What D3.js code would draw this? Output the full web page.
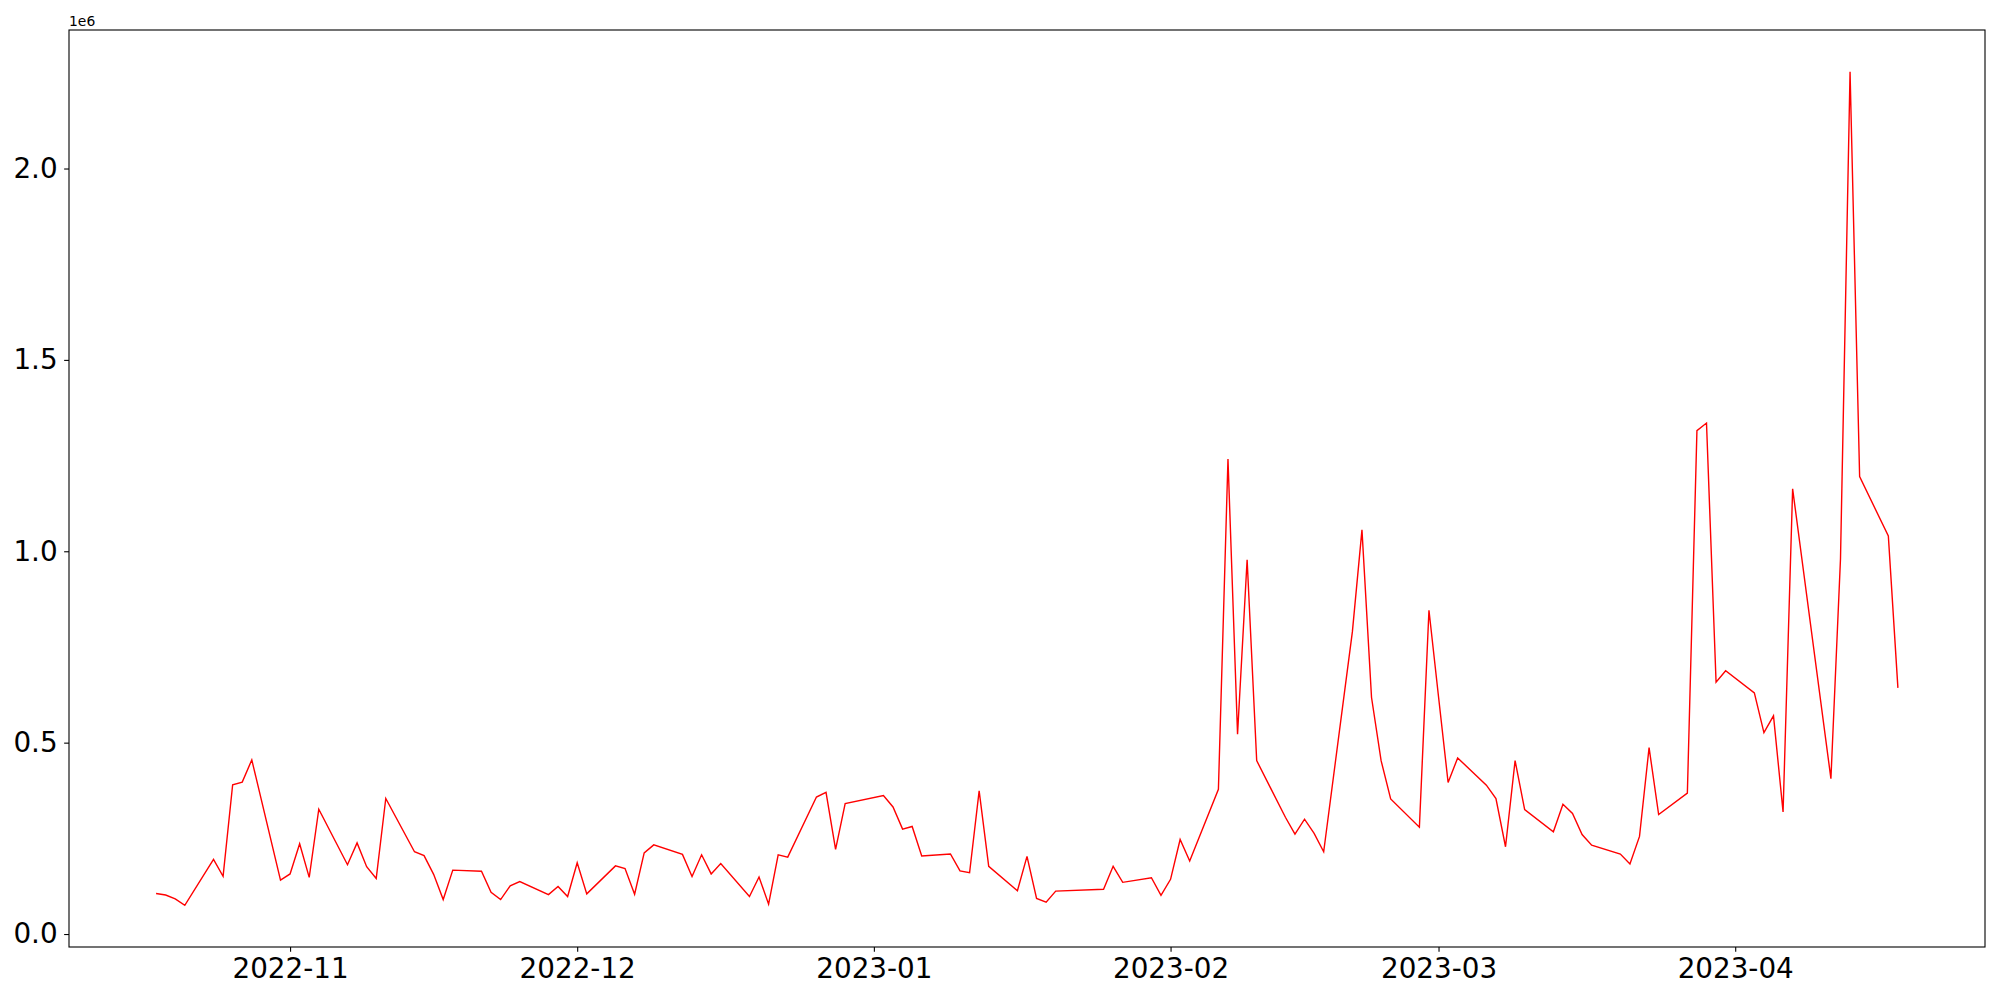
<!DOCTYPE html>
<html>
<head>
<meta charset="utf-8">
<script src="https://cdn.jsdelivr.net/npm/d3@7"></script>
<style>
  html, body { margin: 0; padding: 0; background: white; }
  svg { display: block; font-family: "DejaVu Sans", sans-serif; }
</style>
</head>
<body>
<div id="chart"></div>
<script>
// business days
const dates = [
  "2022-10-18","2022-10-19","2022-10-20","2022-10-21","2022-10-24","2022-10-25","2022-10-26","2022-10-27","2022-10-28",
  "2022-10-31","2022-11-01","2022-11-02","2022-11-03","2022-11-04","2022-11-07","2022-11-08","2022-11-09","2022-11-10","2022-11-11",
  "2022-11-14","2022-11-15","2022-11-16","2022-11-17","2022-11-18","2022-11-21","2022-11-22","2022-11-23","2022-11-24","2022-11-25",
  "2022-11-28","2022-11-29","2022-11-30","2022-12-01","2022-12-02","2022-12-05","2022-12-06","2022-12-07","2022-12-08","2022-12-09",
  "2022-12-12","2022-12-13","2022-12-14","2022-12-15","2022-12-16","2022-12-19","2022-12-20","2022-12-21","2022-12-22","2022-12-23",
  "2022-12-26","2022-12-27","2022-12-28","2022-12-29","2023-01-02","2023-01-03","2023-01-04","2023-01-05","2023-01-06",
  "2023-01-09","2023-01-10","2023-01-11","2023-01-12","2023-01-13","2023-01-16","2023-01-17","2023-01-18","2023-01-19","2023-01-20",
  "2023-01-25","2023-01-26","2023-01-27","2023-01-30","2023-01-31","2023-02-01","2023-02-02","2023-02-03",
  "2023-02-06","2023-02-07","2023-02-08","2023-02-09","2023-02-10","2023-02-13","2023-02-14","2023-02-15","2023-02-16","2023-02-17",
  "2023-02-20","2023-02-21","2023-02-22","2023-02-23","2023-02-24","2023-02-27","2023-02-28","2023-03-01","2023-03-02","2023-03-03",
  "2023-03-06","2023-03-07","2023-03-08","2023-03-09","2023-03-10","2023-03-13","2023-03-14","2023-03-15","2023-03-16","2023-03-17",
  "2023-03-20","2023-03-21","2023-03-22","2023-03-23","2023-03-24","2023-03-27","2023-03-28","2023-03-29","2023-03-30","2023-03-31",
  "2023-04-03","2023-04-04","2023-04-05","2023-04-06","2023-04-07","2023-04-11","2023-04-12","2023-04-13","2023-04-14",
  "2023-04-17","2023-04-18"
];

const values = [
  106000, 102000, 92000, 75000, 195000, 151000, 390000, 397000, 455000,
  141000, 157000, 236000, 148000, 326000, 181000, 238000, 176000, 145000, 354000,
  215000, 205000, 156000, 90000, 167000, 164000, 109000, 90000, 126000, 137000,
  103000, 124000, 98000, 186000, 105000, 178000, 171000, 104000, 212000, 233000,
  208000, 150000, 207000, 157000, 184000, 98000, 149000, 78000, 207000, 201000,
  358000, 370000, 221000, 341000, 362000, 332000, 274000, 281000, 204000,
  209000, 165000, 160000, 374000, 177000, 113000, 203000, 93000, 83000, 112000,
  117000, 177000, 135000, 147000, 101000, 143000, 247000, 191000,
  378000, 1241000, 522000, 978000, 453000, 305000, 261000, 300000, 263000, 215000,
  790000, 1056000, 618000, 453000, 353000, 279000, 846000, 620000, 396000, 460000,
  389000, 354000, 228000, 453000, 325000, 267000, 339000, 315000, 260000, 232000,
  209000, 183000, 255000, 487000, 312000, 368000, 1315000, 1335000, 658000, 688000,
  630000, 526000, 570000, 319000, 1163000, 406000, 980000, 2253000, 1195000,
  1040000, 643000
];

const monthTicks = ["2022-11-01","2022-12-01","2023-01-01","2023-02-01","2023-03-01","2023-04-01"];
const valueTicks = [0, 500000, 1000000, 1500000, 2000000];

const width = 2000, height = 1000;
const margin = {top: 30, right: 15, bottom: 53, left: 69};

const parse = d3.utcParse("%Y-%m-%d");
const points = dates.map((d, i) => ({date: parse(d), value: values[i]}));

// matplotlib style 5% padding on both axes
const xExt = d3.extent(points, d => d.date);
const xPad = (xExt[1] - xExt[0]) * 0.05;
const yExt = d3.extent(points, d => d.value);
const yPad = (yExt[1] - yExt[0]) * 0.05;

const x = d3.scaleUtc()
  .domain([new Date(+xExt[0] - xPad), new Date(+xExt[1] + xPad)])
  .range([margin.left, width - margin.right]);

const y = d3.scaleLinear()
  .domain([yExt[0] - yPad, yExt[1] + yPad])
  .range([height - margin.bottom, margin.top]);

const svg = d3.select("#chart").append("svg")
  .attr("width", width)
  .attr("height", height);

svg.append("path")
  .datum(points)
  .attr("fill", "none")
  .attr("stroke", "#ff0000")
  .attr("stroke-width", 1.4)
  .attr("stroke-linejoin", "miter")
  .attr("d", d3.line().x(d => x(d.date)).y(d => y(d.value)));

const xAxis = svg.append("g")
  .attr("transform", `translate(0,${height - margin.bottom})`)
  .call(d3.axisBottom(x)
    .tickValues(monthTicks.map(parse))
    .tickFormat(d3.utcFormat("%Y-%m"))
    .tickSize(4.86).tickSizeOuter(0).tickPadding(6));
xAxis.select(".domain").remove();
xAxis.selectAll(".tick line").attr("stroke", "#000").attr("stroke-width", 1.1);
xAxis.selectAll(".tick text")
  .attr("fill", "#000")
  .style("font-size", "27.8px")
  .style("font-family", "DejaVu Sans");

const yAxis = svg.append("g")
  .attr("transform", `translate(${margin.left},0)`)
  .call(d3.axisLeft(y)
    .tickValues(valueTicks)
    .tickFormat(d => d3.format(".1f")(d / 1e6))
    .tickSize(4.86).tickSizeOuter(0).tickPadding(6.5));
yAxis.select(".domain").remove();
yAxis.selectAll(".tick line").attr("stroke", "#000").attr("stroke-width", 1.1);
yAxis.selectAll(".tick text")
  .attr("fill", "#000")
  .style("font-size", "27.8px")
  .style("font-family", "DejaVu Sans");

// frame
svg.append("rect")
  .attr("x", margin.left)
  .attr("y", margin.top)
  .attr("width", width - margin.left - margin.right)
  .attr("height", height - margin.top - margin.bottom)
  .attr("fill", "none")
  .attr("stroke", "#000")
  .attr("stroke-width", 1.1);

svg.append("text")
  .attr("x", margin.left)
  .attr("y", margin.top - 4)
  .style("font-size", "13.9px")
  .text("1e6");
</script>
</body>
</html>
